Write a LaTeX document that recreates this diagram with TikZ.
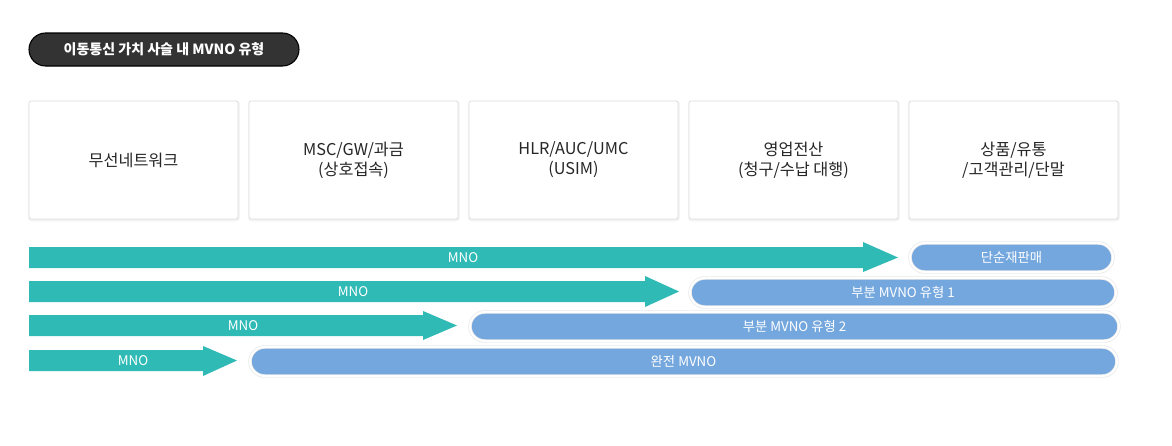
\documentclass[tikz,border=0pt]{standalone}
\usepackage{fontspec}
\setmainfont{Noto Sans CJK KR}
\definecolor{tealc}{HTML}{2FBAB6}
\definecolor{pillc}{HTML}{74A7DE}
\definecolor{titlec}{HTML}{333333}
\tikzset{
  boxst/.style={draw=black!13, line width=0.6pt, fill=white, rounded corners=1.5pt, minimum width=156.75pt, minimum height=88.5pt, inner sep=0pt, align=center, font=\fontsize{12.2pt}{15pt}\selectfont, text=black!85},
  shadowst/.style={fill=black!6, draw=none, rounded corners=2pt, minimum width=157.5pt, minimum height=89.25pt, inner sep=0pt},
  shadowst2/.style={fill=black!3, draw=none, rounded corners=2.5pt, minimum width=159pt, minimum height=90.75pt, inner sep=0pt},
  arrowst/.style={fill=tealc, draw=none},
  mnost/.style={text=white, font=\fontsize{10pt}{12pt}\selectfont, inner sep=0pt},
  pillouter/.style={draw=black!9, line width=2.6pt, fill=pillc, rounded corners=11pt},
  pillinner/.style={draw=white, line width=1.5pt, rounded corners=11pt},
  pilltext/.style={text=white, font=\fontsize{10pt}{12pt}\selectfont, inner sep=0pt},
}
\begin{document}
\begin{tikzpicture}[x=0.75pt,y=-0.75pt]
\useasboundingbox (0,0) rectangle (1172,446);
% title
\draw[fill=titlec, draw=black, line width=0.8pt, rounded corners=12.4pt] (29,33) rectangle (299,66);
\node[text=white, font=\bfseries\fontsize{10.5pt}{12pt}\selectfont] (title) at (164,49.5) {이동통신 가치 사슬 내 MVNO 유형};
% boxes
\foreach \cx in {133.5,353.5,573.5,793.5,1013.5} {
  \node[shadowst2] at (\cx+0.5,161) {};
  \node[shadowst] at (\cx+0.5,160.8) {};
}
\node[boxst] (b1) at (133.5,160) {무선네트워크};
\node[boxst] (b2) at (353.5,160) {MSC/GW/과금\\(상호접속)};
\node[boxst] (b3) at (573.5,160) {HLR/AUC/UMC\\(USIM)};
\node[boxst] (b4) at (793.5,160) {영업전산\\(청구/수납 대행)};
\node[boxst] (b5) at (1013.5,160) {상품/유통\\/고객관리/단말};
% arrows
\fill[arrowst] (29,247) -- (863,247) -- (863,242) -- (898,257.5) -- (863,272) -- (863,268) -- (29,268) -- cycle;
\fill[arrowst] (29,281) -- (645,281) -- (645,276) -- (679,291.5) -- (645,307) -- (645,302) -- (29,302) -- cycle;
\fill[arrowst] (29,315) -- (423,315) -- (423,311) -- (457,325.5) -- (423,340) -- (423,336) -- (29,336) -- cycle;
\fill[arrowst] (29,350) -- (203,350) -- (203,346) -- (237,360.5) -- (203,376) -- (203,371) -- (29,371) -- cycle;
\node[mnost] (m1) at (463,257.5) {MNO};
\node[mnost] (m2) at (353,291.5) {MNO};
\node[mnost] (m3) at (243,325.5) {MNO};
\node[mnost] (m4) at (133,360.5) {MNO};
% pills
\draw[pillouter] (910,243) rectangle (1113,272);
\draw[pillinner] (910,243) rectangle (1113,272);
\node[pilltext] (p1) at (1011.5,257.5) {단순재판매};
\draw[pillouter] (690,278) rectangle (1116,307);
\draw[pillinner] (690,278) rectangle (1116,307);
\node[pilltext] (p2) at (903,292.5) {부분 MVNO 유형 1};
\draw[pillouter] (470,312) rectangle (1119,341);
\draw[pillinner] (470,312) rectangle (1119,341);
\node[pilltext] (p3) at (794.5,326.5) {부분 MVNO 유형 2};
\draw[pillouter] (250,347) rectangle (1117,376);
\draw[pillinner] (250,347) rectangle (1117,376);
\node[pilltext] (p4) at (683.5,361.5) {완전 MVNO};
\end{tikzpicture}
\end{document}
